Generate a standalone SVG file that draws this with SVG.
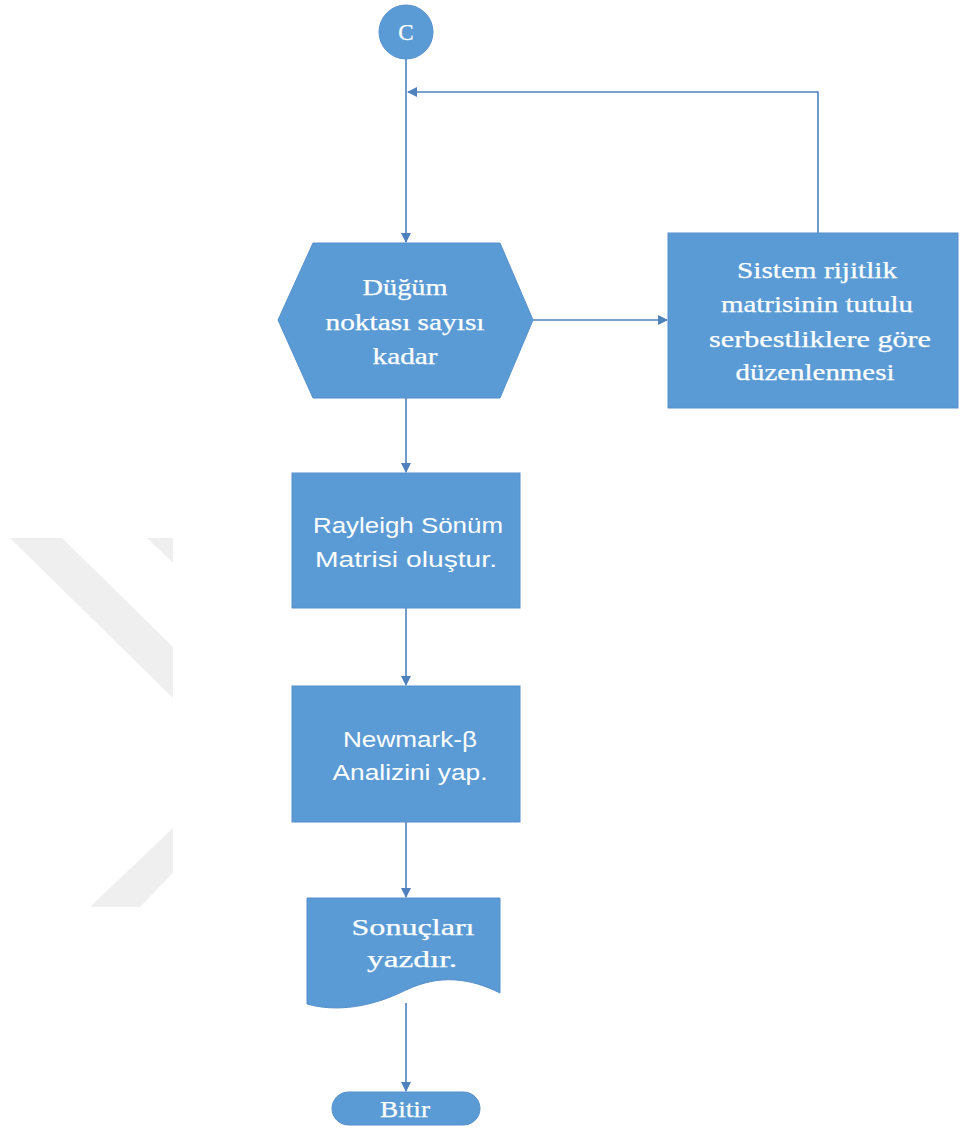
<svg xmlns="http://www.w3.org/2000/svg" width="960" height="1133" viewBox="0 0 960 1133">
<defs>
<marker id="ah" markerWidth="10" markerHeight="10" refX="9" refY="5" orient="auto" markerUnits="userSpaceOnUse">
<path d="M0,0 L10,5 L0,10 Z" fill="#4f81bd"/>
</marker>
<style>
.n{fill:#5b9bd5;stroke:#5590cc;stroke-width:1}
.c{fill:none;stroke:#4f81bd;stroke-width:1.6}
.s{font-family:"Liberation Serif",serif;font-size:23px;fill:#ffffff;stroke:#ffffff;stroke-width:0.25;text-anchor:middle}
.a{font-family:"Liberation Sans",sans-serif;font-size:22px;fill:#ffffff;text-anchor:middle}
.w{fill:#efefef}
</style>
</defs>
<rect width="960" height="1133" fill="#ffffff"/>
<g id="watermark">
<polygon class="w" points="10,538 62,538 173,647 173,698"/>
<polygon class="w" points="147,538 173,538 173,563"/>
<polygon class="w" points="90,907 140,907 173,873 173,828"/>
</g>
<g id="connectors">
<line class="c" x1="406" y1="59" x2="406" y2="242" marker-end="url(#ah)"/>
<polyline class="c" points="818,233 818,92 408,92" marker-end="url(#ah)"/>
<line class="c" x1="533" y1="320" x2="667" y2="320" marker-end="url(#ah)"/>
<line class="c" x1="406" y1="398" x2="406" y2="472" marker-end="url(#ah)"/>
<line class="c" x1="406" y1="608" x2="406" y2="685" marker-end="url(#ah)"/>
<line class="c" x1="406" y1="822" x2="406" y2="897" marker-end="url(#ah)"/>
<line class="c" x1="406" y1="1003" x2="406" y2="1091" marker-end="url(#ah)"/>
</g>
<g id="start">
<circle class="n" cx="406" cy="32" r="27"/>
<text class="s" x="406" y="40" font-size="24">C</text>
</g>
<g id="loop">
<polygon class="n" points="313,243 500,243 533,320 500,398 313,398 278,320"/>
<text class="s" x="405" y="295" textLength="85" lengthAdjust="spacingAndGlyphs">Düğüm</text>
<text class="s" x="405" y="330" textLength="159" lengthAdjust="spacingAndGlyphs">noktası sayısı</text>
<text class="s" x="405" y="364" textLength="65" lengthAdjust="spacingAndGlyphs">kadar</text>
</g>
<g id="rigidity">
<rect class="n" x="668" y="233" width="290" height="175"/>
<text class="s" x="817" y="278" textLength="160" lengthAdjust="spacingAndGlyphs">Sistem rijitlik</text>
<text class="s" x="817" y="312" textLength="192" lengthAdjust="spacingAndGlyphs">matrisinin tutulu</text>
<text class="s" x="820" y="347" textLength="222" lengthAdjust="spacingAndGlyphs">serbestliklere göre</text>
<text class="s" x="815" y="380" textLength="159" lengthAdjust="spacingAndGlyphs">düzenlenmesi</text>
</g>
<g id="rayleigh">
<rect class="n" x="292" y="473" width="228" height="135"/>
<text class="a" x="408" y="533" textLength="190" lengthAdjust="spacingAndGlyphs">Rayleigh Sönüm</text>
<text class="a" x="406" y="567" textLength="182" lengthAdjust="spacingAndGlyphs">Matrisi oluştur.</text>
</g>
<g id="newmark">
<rect class="n" x="292" y="686" width="228" height="136"/>
<text class="a" x="410" y="747" textLength="134" lengthAdjust="spacingAndGlyphs">Newmark-β</text>
<text class="a" x="410" y="780" textLength="155" lengthAdjust="spacingAndGlyphs">Analizini yap.</text>
</g>
<g id="output">
<path class="n" d="M307,898 L500,898 L500,993 C470,978 440,974 406,990 C370,1008 335,1012 307,1004 Z"/>
<text class="s" x="413" y="935" textLength="123" lengthAdjust="spacingAndGlyphs">Sonuçları</text>
<text class="s" x="412" y="967" textLength="90" lengthAdjust="spacingAndGlyphs">yazdır.</text>
</g>
<g id="end">
<rect class="n" x="332" y="1092" width="148" height="33" rx="16.5"/>
<text class="s" x="405" y="1117" textLength="50" lengthAdjust="spacingAndGlyphs">Bitir</text>
</g>
</svg>
